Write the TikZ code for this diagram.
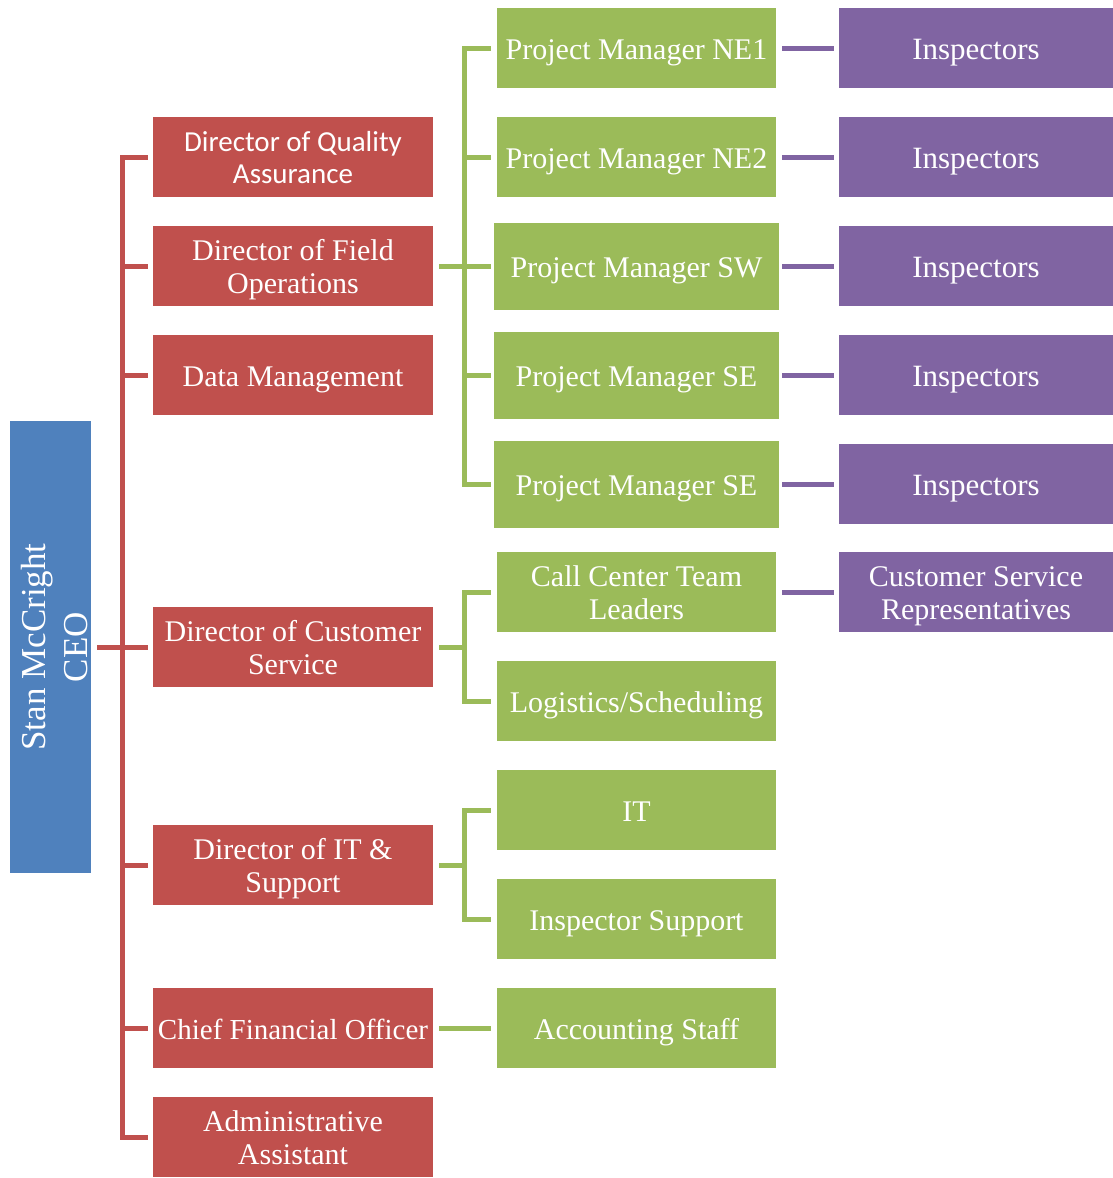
\documentclass[tikz,border=0pt]{standalone}
\usepackage{fontspec}
\setmainfont{Liberation Serif}
\newfontfamily\calib{Carlito}
\definecolor{cred}{HTML}{C0504D}
\definecolor{cgreen}{HTML}{9BBB59}
\definecolor{cpurple}{HTML}{8064A2}
\definecolor{cblue}{HTML}{4F81BD}
\newcommand\boxtext[2][11pt]{\raisebox{-#1}[0pt][0pt]{\begin{tabular}{@{}c@{}}#2\end{tabular}}}
\tikzset{
  box/.style={rectangle, inner sep=0pt, text=white, font=\fontsize{30}{33}\selectfont},
  redbox/.style={box, fill=cred, minimum width=280pt, minimum height=80pt},
  greenbox/.style={box, fill=cgreen, minimum width=279pt, minimum height=80pt},
  biggreen/.style={box, fill=cgreen, minimum width=285pt, minimum height=87pt},
  purplebox/.style={box, fill=cpurple, minimum width=274pt, minimum height=80pt},
  ceobox/.style={box, fill=cblue, minimum width=452pt, minimum height=81pt, rotate=90,
    font=\fontsize{35}{42}\selectfont},
  redline/.style={draw=cred, line width=5pt, line join=miter},
  greenline/.style={draw=cgreen, line width=5pt, line join=miter},
  purpleline/.style={draw=cpurple, line width=5pt},
}
\begin{document}
\begin{tikzpicture}[x=1pt,y=-1pt]
\useasboundingbox (0,0) rectangle (1113,1178);
% CEO
\node[ceobox] (ceo) at (50.5,647) {\boxtext[13.75pt]{Stan McCright\\CEO}};
% red boxes
\node[redbox, font=\calib\fontsize{29}{32}\selectfont] (dqa) at (293,157) {\boxtext[10pt]{Director of Quality\\Assurance}};
\node[redbox] (dfo) at (293,266) {\boxtext{Director of Field\\Operations}};
\node[redbox] (dm) at (293,375) {\boxtext{Data Management}};
\node[redbox] (dcs) at (293,647) {\boxtext{Director of Customer\\Service}};
\node[redbox] (dit) at (293,865) {\boxtext{Director of IT \&\\Support}};
\node[redbox, font=\fontsize{29}{32}\selectfont] (cfo) at (293,1028) {\boxtext{Chief Financial Officer}};
\node[redbox] (aa) at (293,1137) {\boxtext{Administrative\\Assistant}};
% green boxes
\node[greenbox] (ne1) at (636.5,48) {\boxtext{Project Manager NE1}};
\node[greenbox] (ne2) at (636.5,157) {\boxtext{Project Manager NE2}};
\node[biggreen] (sw) at (636.5,266) {\boxtext{Project Manager SW}};
\node[biggreen] (se) at (636.5,375) {\boxtext{Project Manager SE}};
\node[biggreen] (se2) at (636.5,484) {\boxtext{Project Manager SE}};
\node[greenbox] (cc) at (636.5,592) {\boxtext{Call Center Team\\Leaders}};
\node[greenbox] (log) at (636.5,701) {\boxtext{Logistics/Scheduling}};
\node[greenbox] (it) at (636.5,810) {\boxtext{IT}};
\node[greenbox] (is) at (636.5,919) {\boxtext{Inspector Support}};
\node[greenbox] (acc) at (636.5,1028) {\boxtext{Accounting Staff}};
% purple boxes
\node[purplebox, font=\fontsize{31}{34}\selectfont] (in1) at (976,48) {\boxtext{Inspectors}};
\node[purplebox, font=\fontsize{31}{34}\selectfont] (in2) at (976,157) {\boxtext{Inspectors}};
\node[purplebox, font=\fontsize{31}{34}\selectfont] (in3) at (976,266) {\boxtext{Inspectors}};
\node[purplebox, font=\fontsize{31}{34}\selectfont] (in4) at (976,375) {\boxtext{Inspectors}};
\node[purplebox, font=\fontsize{31}{34}\selectfont] (in5) at (976,484) {\boxtext{Inspectors}};
\node[purplebox] (csr) at (976,592) {\boxtext{Customer Service\\Representatives}};
% red connectors
\coordinate (rt) at (122,647);
\draw[redline] ([xshift=-5pt]dqa.west) -- (dqa.west -| rt) -- (aa.west -| rt) -- ([xshift=-5pt]aa.west);
\foreach \n in {dfo,dm,dit,cfo}{
  \draw[redline] (\n.west -| rt) -- ([xshift=-5pt]\n.west);
}
\draw[redline] ([xshift=6pt]ceo.south) -- ([xshift=-5pt]dcs.west);
% green connectors: field operations
\coordinate (gt) at (464,266);
\draw[greenline] ([xshift=-6pt]ne1.west) -- (ne1.west -| gt) -- (se2.west -| gt) -- ([xshift=-3pt]se2.west);
\draw[greenline] (ne2.west -| gt) -- ([xshift=-6pt]ne2.west);
\draw[greenline] (se.west -| gt) -- ([xshift=-3pt]se.west);
\draw[greenline] ([xshift=6pt]dfo.east) -- ([xshift=-3pt]sw.west);
% customer service
\draw[greenline] ([xshift=-6pt]cc.west) -- (cc.west -| gt) -- (log.west -| gt) -- ([xshift=-6pt]log.west);
\draw[greenline] ([xshift=6pt]dcs.east) -- (dcs.east -| gt);
% IT
\draw[greenline] ([xshift=-6pt]it.west) -- (it.west -| gt) -- (is.west -| gt) -- ([xshift=-6pt]is.west);
\draw[greenline] ([xshift=6pt]dit.east) -- (dit.east -| gt);
% CFO
\draw[greenline] ([xshift=6pt]cfo.east) -- ([xshift=-6pt]acc.west);
% purple connectors
\draw[purpleline] ([xshift=6pt]ne1.east) -- ([xshift=-5pt]in1.west);
\draw[purpleline] ([xshift=6pt]ne2.east) -- ([xshift=-5pt]in2.west);
\draw[purpleline] ([xshift=3pt]sw.east) -- ([xshift=-5pt]in3.west);
\draw[purpleline] ([xshift=3pt]se.east) -- ([xshift=-5pt]in4.west);
\draw[purpleline] ([xshift=3pt]se2.east) -- ([xshift=-5pt]in5.west);
\draw[purpleline] ([xshift=6pt]cc.east) -- ([xshift=-5pt]csr.west);
\end{tikzpicture}
\end{document}
